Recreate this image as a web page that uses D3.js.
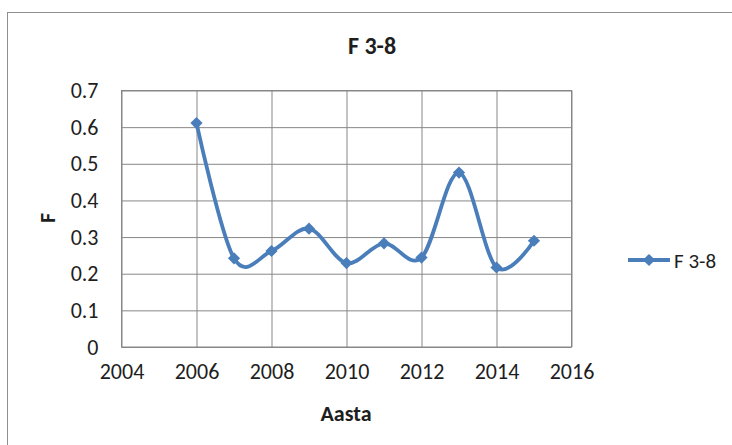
<!DOCTYPE html>
<html>
<head>
<meta charset="utf-8">
<script src="https://cdn.jsdelivr.net/npm/d3@7/dist/d3.min.js"></script>
<style>
  html, body { margin: 0; padding: 0; background: #fff; }
  svg { display: block; }
  text { font-family: Carlito, Lato, "Open Sans", sans-serif; fill: #1e1e1e; }
</style>
</head>
<body>
<svg id="chart" width="732" height="445"></svg>
<script>
// F 3-8 by year
const years = [2006, 2007, 2008, 2009, 2010, 2011, 2012, 2013, 2014, 2015];
const fValues = [0.611, 0.242, 0.262, 0.323, 0.229, 0.283, 0.244, 0.476, 0.217, 0.290];
const xTicks = [2004, 2006, 2008, 2010, 2012, 2014, 2016];
const yTicks = [0, 0.1, 0.2, 0.3, 0.4, 0.5, 0.6, 0.7];
const seriesName = "F 3-8";
const chartTitle = "F 3-8";
const xTitle = "Aasta";
const yTitle = "F";

const svg = d3.select("#chart");
const blue = "#4A7EBB";
const grid = "#878787";
const fontStack = "Carlito, Lato, 'Open Sans', sans-serif";

const plot = { left: 121.5, right: 571.5, top: 90.5, bottom: 347 };

const x = d3.scaleLinear().domain([2004, 2016]).range([plot.left, plot.right]);
const y = d3.scaleLinear().domain([0, 0.7]).range([plot.bottom, plot.top]);

// outer chart frame
svg.append("rect")
  .attr("x", 7.5).attr("y", 12.5)
  .attr("width", 900).attr("height", 600)
  .attr("fill", "none").attr("stroke", "#8e8e8e").attr("stroke-width", 1);

// horizontal gridlines + y tick labels
const yAxis = d3.axisLeft(y).tickValues(yTicks)
  .tickSize(-(plot.right - plot.left)).tickPadding(23)
  .tickFormat(d => d === 0 ? "0" : d3.format(".1f")(d));
const gy = svg.append("g").attr("transform", `translate(${plot.left},0)`).call(yAxis);
gy.select(".domain").remove();
gy.selectAll(".tick line").attr("stroke", grid).attr("stroke-width", 1);
gy.selectAll(".tick text").attr("font-size", 22).attr("fill", "#1e1e1e")
  .attr("font-family", fontStack);

// vertical gridlines + x tick labels
const xAxis = d3.axisBottom(x).tickValues(xTicks)
  .tickSize(-(plot.bottom - plot.top)).tickPadding(16)
  .tickFormat(d3.format("d"));
const gx = svg.append("g").attr("transform", `translate(0,${plot.bottom})`).call(xAxis);
gx.select(".domain").remove();
gx.selectAll(".tick line").attr("stroke", grid).attr("stroke-width", 1);
gx.selectAll(".tick text").attr("font-size", 22).attr("fill", "#1e1e1e")
  .attr("font-family", fontStack);

// plot area border
svg.append("rect")
  .attr("x", plot.left).attr("y", plot.top)
  .attr("width", plot.right - plot.left).attr("height", plot.bottom - plot.top)
  .attr("fill", "none").attr("stroke", grid).attr("stroke-width", 1);

// smoothed series line
const data = years.map((yr, i) => ({ year: yr, value: fValues[i] }));
const line = d3.line()
  .x(d => x(d.year)).y(d => y(d.value))
  .curve(d3.curveCatmullRom.alpha(0));
svg.append("path").datum(data)
  .attr("d", line)
  .attr("fill", "none").attr("stroke", blue)
  .attr("stroke-width", 3.8).attr("stroke-linejoin", "round").attr("stroke-linecap", "round");

// diamond markers
const diamond = d3.symbol().type(d3.symbolDiamond2).size(95);
svg.append("g").selectAll("path").data(data).join("path")
  .attr("d", diamond)
  .attr("transform", d => `translate(${x(d.year)},${y(d.value)})`)
  .attr("fill", blue);

// title
svg.append("text")
  .attr("x", 372).attr("y", 54)
  .attr("text-anchor", "middle").attr("font-size", 24).attr("font-weight", "bold")
  .text(chartTitle);

// axis titles
svg.append("text")
  .attr("x", 346).attr("y", 421)
  .attr("text-anchor", "middle").attr("font-size", 22).attr("font-weight", "bold")
  .text(xTitle);
svg.append("text")
  .attr("transform", "translate(55,218) rotate(-90)")
  .attr("text-anchor", "middle").attr("font-size", 22).attr("font-weight", "bold")
  .text(yTitle);

// legend
const lg = svg.append("g").attr("transform", "translate(628,260)");
lg.append("line").attr("x1", 0).attr("x2", 42).attr("y1", 0).attr("y2", 0)
  .attr("stroke", blue).attr("stroke-width", 3.8);
lg.append("path").attr("d", diamond).attr("transform", "translate(21,0)").attr("fill", blue);
lg.append("text").attr("x", 46).attr("y", 8).attr("font-size", 21).text(seriesName);
</script>
</body>
</html>
